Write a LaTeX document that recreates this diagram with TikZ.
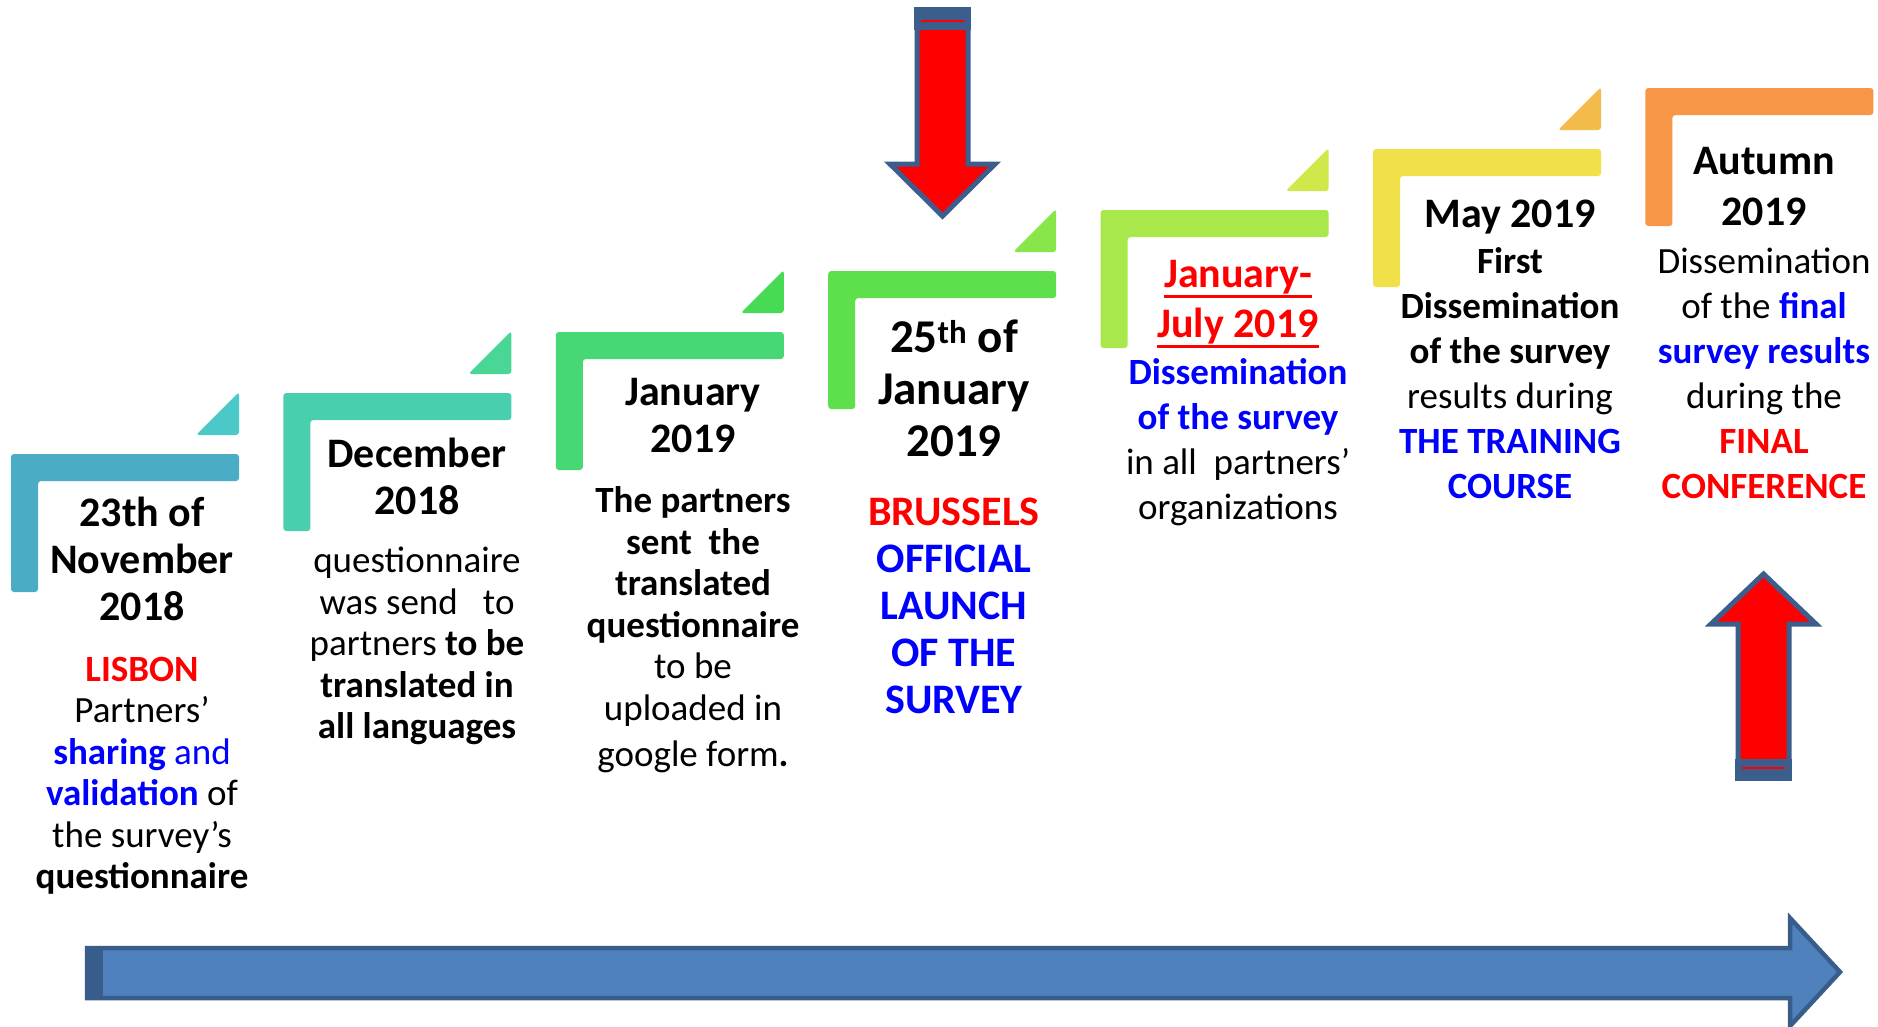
\documentclass[tikz,border=0pt]{standalone}
\usepackage{fontspec}
\setmainfont{Carlito}
\definecolor{step1}{HTML}{4BACC6}
\definecolor{step2}{HTML}{4ACFAE}
\definecolor{step3}{HTML}{47D774}
\definecolor{step4}{HTML}{5EE04C}
\definecolor{step5}{HTML}{A9E84A}
\definecolor{step6}{HTML}{F0E04A}
\definecolor{step7}{HTML}{F79646}
\definecolor{flag1}{HTML}{4BC8C8}
\definecolor{flag2}{HTML}{4AD694}
\definecolor{flag3}{HTML}{47DB55}
\definecolor{flag4}{HTML}{88E64A}
\definecolor{flag5}{HTML}{D0E84A}
\definecolor{flag6}{HTML}{F3BB4A}
\definecolor{arrowedge}{HTML}{3B5E8C}
\definecolor{timeblue}{HTML}{4F81BD}
\definecolor{timeedge}{HTML}{385D8A}
\definecolor{hotred}{RGB}{255, 0, 0}
\definecolor{deepblue}{RGB}{0, 0, 255}
% thick underline for the period heading
\newcommand{\stepunderline}[1]{\leavevmode\vtop{\hbox{#1}\kern1.5pt\hrule height 2.8pt}}

\begin{document}
\begin{tikzpicture}[x=1pt, y=-1pt,
  datebox/.style={font=\fontsize{42}{47}\selectfont\bfseries, align=center, inner sep=0pt},
  note/.style={font=\fontsize{37}{41.5}\selectfont, align=center, inner sep=0pt},
  redarrow/.style={draw=arrowedge, fill=hotred, line width=5pt, line join=miter},
]
  \useasboundingbox (0,0) rectangle (1878,1026);
  \fill[white] (0,0) rectangle (1878,1026);

  % stair steps, each one an L-shaped corner
  \foreach \i/\c in {0/step1, 1/step2, 2/step3, 3/step4, 4/step5, 5/step6, 6/step7} {
    \fill[\c, rounded corners=3pt, shift={(11+272.4*\i, 454-61*\i)}]
      (0,0) -- (228,0) -- (228,27) -- (27,27) -- (27,138) -- (0,138) -- cycle;
  }
  % small flags above the steps
  \foreach \i/\c in {0/flag1, 1/flag2, 2/flag3, 3/flag4, 4/flag5, 5/flag6} {
    \fill[\c, rounded corners=3pt, shift={(11+272.4*\i, 454-61*\i)}]
      (185,-19) -- (228,-19) -- (228,-62) -- cycle;
  }

  % launch arrow (down) and conference arrow (up)
  \filldraw[redarrow] (917,10) -- (968,10) -- (968,164) -- (995,164) -- (942.5,216)
    -- (890,164) -- (917,164) -- cycle;
  \fill[arrowedge] (914,7) rectangle (971,30);
  \draw[hotred, line width=1.5pt] (921,21) -- (964,21);

  \filldraw[redarrow] (1763.5,574) -- (1816,624) -- (1789,624) -- (1789,778)
    -- (1738,778) -- (1738,624) -- (1711,624) -- cycle;
  \fill[arrowedge] (1735,759) rectangle (1792,781);
  \draw[hotred, line width=1.5pt] (1742,768) -- (1785,768);

  % time line
  \filldraw[draw=timeedge, fill=timeblue, line width=4.5pt, line join=miter]
    (87,948) -- (1790,948) -- (1790,918) -- (1840,972) -- (1790,1026)
    -- (1790,998) -- (87,998) -- cycle;
  \fill[timeedge] (85,946) rectangle (103,1000);

  % dates
  \node[datebox] (nov) at (142,559) {23th of\\November\\2018};
  \node[datebox] (dec) at (417,476) {December\\2018};
  \node[datebox] (jan) at (693,416) {January\\2019};
  \node[datebox, font=\fontsize{47}{52}\selectfont\bfseries] (launch) at (954,388)
    {25\textsuperscript{th} of\\January\\2019};
  \node[datebox, font=\fontsize{42}{50}\selectfont\bfseries, text=hotred] (janjul) at (1238,304)
    {\stepunderline{January-}\\\stepunderline{July 2019}};
  \node[datebox] (may) at (1510,217) {May 2019};
  \node[datebox, font=\fontsize{42}{51}\selectfont\bfseries] (autumn) at (1764,187) {Autumn\\2019};

  % what happened
  \node[note] (lisbon) at (142,776)
    {\textcolor{hotred}{\textbf{LISBON}}\\
     Partners'\\
     \textcolor{deepblue}{\textbf{sharing} and}\\
     \textcolor{deepblue}{\textbf{validation}} of\\
     the survey's\\
     \textbf{questionnaire}};
  \node[note] (sendout) at (417,646)
    {questionnaire\\
     was send \ \ to\\
     partners \textbf{to be}\\
     \textbf{translated in}\\
     \textbf{all languages}};
  \node[note] (translated) at (693,630)
    {\textbf{The partners}\\
     \textbf{sent \ the}\\
     \textbf{translated}\\
     \textbf{questionnaire}\\
     to be\\
     uploaded in\\[5pt]
     google form\textbf{.}};
  \node[note, font=\fontsize{42}{47}\selectfont\bfseries] (brussels) at (954,606)
    {\textcolor{hotred}{BRUSSELS}\\
     \textcolor{deepblue}{OFFICIAL}\\
     \textcolor{deepblue}{LAUNCH}\\
     \textcolor{deepblue}{OF THE}\\
     \textcolor{deepblue}{SURVEY}};
  \node[note, font=\fontsize{37}{45}\selectfont] (spread) at (1238,442)
    {\textcolor{deepblue}{\textbf{Dissemination}}\\
     \textcolor{deepblue}{\textbf{of the survey}}\\
     in all \ partners'\\
     organizations};
  \node[note, font=\fontsize{37}{45}\selectfont] (training) at (1510,373)
    {\textbf{First}\\
     \textbf{Dissemination}\\
     \textbf{of the survey}\\
     results during\\
     \textcolor{deepblue}{\textbf{THE TRAINING}}\\
     \textcolor{deepblue}{\textbf{COURSE}}};
  \node[note, font=\fontsize{37}{45}\selectfont] (conference) at (1764,373)
    {Dissemination\\
     of the \textcolor{deepblue}{\textbf{final}}\\
     \textcolor{deepblue}{\textbf{survey results}}\\
     during the\\
     \textcolor{hotred}{\textbf{FINAL}}\\
     \textcolor{hotred}{\textbf{CONFERENCE}}};
\end{tikzpicture}
\end{document}
